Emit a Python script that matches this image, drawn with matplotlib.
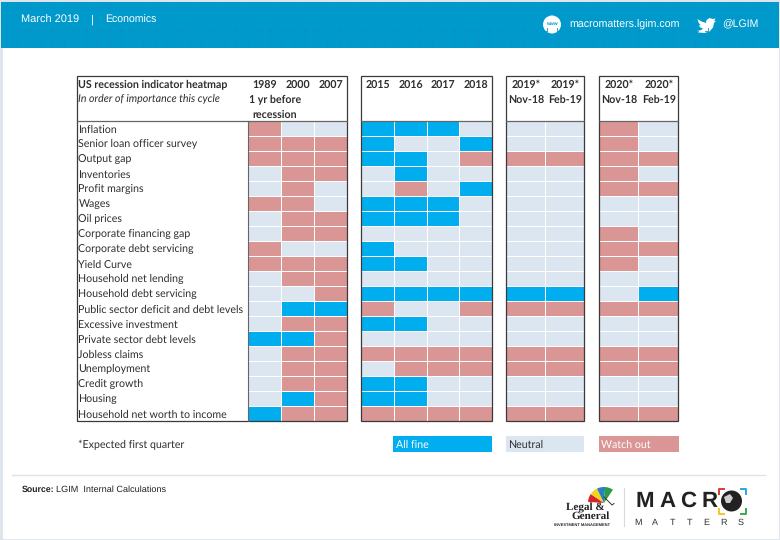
import matplotlib
matplotlib.use("Agg")
import matplotlib.pyplot as plt
from matplotlib.colors import ListedColormap
from matplotlib.patches import Rectangle, Circle, Wedge, Polygon
import numpy as np

plt.rcParams["text.hinting"] = "no_hinting"
plt.rcParams["text.hinting_factor"] = 8

indicators = ["Inflation", "Senior loan officer survey", "Output gap", "Inventories",
              "Profit margins", "Wages", "Oil prices", "Corporate financing gap",
              "Corporate debt servicing", "Yield Curve", "Household net lending",
              "Household debt servicing", "Public sector deficit and debt levels",
              "Excessive investment", "Private sector debt levels", "Jobless claims",
              "Unemployment", "Credit growth", "Housing", "Household net worth to income"]

# F = all fine, N = neutral, W = watch out; one string per indicator
before_recession = ["WNN", "WWW", "WWW", "NWW", "NWN", "WWN", "NWW", "NWW", "WNN", "WWW",
                    "NWW", "NNW", "NFF", "NWW", "FFW", "NWW", "NWW", "NWW", "NFW", "FWW"]
recent_years = ["FFFN", "FNNF", "FFNW", "NFNN", "NWNF", "FFFN", "FFFN", "NNNN", "FNNN", "FFNN",
                "NNNN", "FFFF", "WNNW", "FFNN", "NNNN", "WWWW", "NWWW", "FFNN", "FFNN", "WWWW"]
forecast_2019 = ["NN", "NN", "WW", "NN", "NN", "NN", "NN", "NN", "NN", "NN",
                 "NN", "FF", "WW", "NN", "NN", "WW", "WW", "NN", "NN", "WW"]
forecast_2020 = ["WN", "WN", "WW", "WN", "WW", "NN", "NN", "WN", "WW", "WN",
                 "NN", "NF", "WW", "NN", "NN", "WW", "WW", "NN", "NN", "WW"]

cols_before = ["1989", "2000", "2007"]
cols_recent = ["2015", "2016", "2017", "2018"]
cols_2019 = [("2019*", "Nov-18"), ("2019*", "Feb-19")]
cols_2020 = [("2020*", "Nov-18"), ("2020*", "Feb-19")]

C_FINE, C_NEUT, C_WATCH = "#00AEEF", "#DCE6F1", "#DA9694"
BANNER = "#0099CC"
PATTERN = "#0A90C0"
TXT = "#2E2E2E"
SANS = "Lato"
ARIAL = "Liberation Sans"
FS = 7.7

W, H = 780, 540
fig = plt.figure(figsize=(W / 100, H / 100), dpi=100, facecolor="white")

bg = fig.add_axes([0, 0, 1, 1], zorder=0)
bg.set_xlim(0, W); bg.set_ylim(H, 0); bg.axis("off")

# page border & banner
bg.add_patch(Rectangle((0.5, 0.5), W - 1, H - 1, fc="white", ec="#DDE3EA", lw=2))
bg.add_patch(Rectangle((1, 2), W - 2, 46, fc=BANNER, ec="none"))
for yy in (3, 26, 39):
    for xx in np.arange(5, W - 8, 23):
        bg.plot([xx, xx, xx + 3], [yy + 2, yy + 5, yy + 5], color=PATTERN, lw=0.6)
        bg.plot([xx + 10, xx + 13, xx + 13], [yy + 5, yy + 5, yy + 2], color=PATTERN, lw=0.6)
        if yy == 39:
            bg.plot([xx, xx, xx + 3], [yy + 1, yy - 2, yy - 2], color=PATTERN, lw=0.6)
            bg.plot([xx + 10, xx + 13, xx + 13], [yy - 2, yy - 2, yy + 1], color=PATTERN, lw=0.6)
bg.text(21, 20.5, "March 2019", color="white", fontsize=7.9, family=ARIAL, va="center")
bg.text(91, 20.5, "|", color="white", fontsize=7.9, family=ARIAL, va="center", ha="center")
bg.text(105, 20.5, "Economics", color="white", fontsize=7.6, family=ARIAL, va="center")
bg.add_patch(Circle((552, 24.5), 9, fc="white", ec="none"))
bg.text(552, 23.5, "www", color=BANNER, fontsize=3.6, family=ARIAL, ha="center", va="center", weight="bold")
bg.text(569, 25, "macromatters.lgim.com", color="white", fontsize=7.7, family=ARIAL, va="center")
bird = [(697.5, 19), (701.5, 21.5), (706, 23), (706.5, 20), (709.5, 18), (712.5, 19), (715.5, 18.5), (714, 21),
        (716, 20.8), (714, 23), (713, 27.5), (709.5, 31.5), (704.5, 33), (698.5, 32.5), (696.5, 31),
        (701, 30.2), (703, 28.5), (700, 27.3), (699, 25), (700.5, 25), (698.5, 22.5)]
bg.add_patch(Polygon(bird, closed=True, fc="white", ec="none"))
bg.text(722, 25, "@LGIM", color="white", fontsize=7.6, family=ARIAL, va="center")

# footer
bg.plot([12, 765], [474.5, 474.5], color="#DDE3EA", lw=1)
bg.text(22, 489.5, "Source:", fontsize=6.3, family=ARIAL, weight="bold", color="#222222", va="center")
bg.text(55.5, 489.5, "LGIM  Internal Calculations", fontsize=6.6, family=ARIAL, color="#222222", va="center")

# Legal & General logo
for a1, a2, col in [(184, 214, "#D8232A"), (214, 244, "#F6D21E"), (244, 274, "#2A7FC1"), (274, 304, "#2E9B47")]:
    bg.add_patch(Wedge((604, 503), 16, a1, a2, fc=col, ec="none"))
bg.plot([604, 609, 612, 614], [497, 502, 505, 503.5], color="#333333", lw=0.7)
bg.text(585, 507.5, "Legal &", fontsize=8, family="Liberation Serif", weight="bold", ha="center", va="center", color="#222222")
bg.text(591, 516.5, "General", fontsize=8, family="Liberation Serif", weight="bold", ha="center", va="center", color="#222222")
bg.text(582.5, 524.5, "INVESTMENT MANAGEMENT", fontsize=2.9, family=ARIAL, weight="bold", ha="center", va="center", color="#222222")
bg.plot([623.5, 623.5], [488, 526], color="#DADADA", lw=0.8)
for x, ch in zip([645, 667, 688, 709.5], "MACR"):
    bg.text(x, 501.5, ch, fontsize=16, family=ARIAL, weight="bold", ha="center", va="center", color="#222222")
bg.add_patch(Circle((731.5, 501), 10.5, fc="#222222", ec="none"))
bg.add_patch(Polygon([(724, 497), (730, 494), (733, 498), (730, 503), (726, 503)], closed=True, fc="#CFCFCF", ec="none"))
for (x0, y0, dx, dy, col) in [(719, 494, 1, -1, "#E03A2F"), (746, 494, -1, -1, "#2AA8E0"),
                              (719, 509, 1, 1, "#F2C81E"), (746, 509, -1, 1, "#3AAA4A")]:
    bg.plot([x0, x0, x0 + 5 * dx], [y0, y0 + 5 * dy, y0 + 5 * dy], color=col, lw=1.4)
for x, ch in zip(np.linspace(638, 741, 7), "MATTERS"):
    bg.text(x, 523, ch, fontsize=6.5, family=ARIAL, ha="center", va="center", color="#333333")

# heat blocks
TOP, BOT = 121, 421
cmap = ListedColormap([C_FINE, C_NEUT, C_WATCH])
code = {"F": 0, "N": 1, "W": 2}


def block(rows, x0, x1):
    ax = fig.add_axes([x0 / W, 1 - BOT / H, (x1 - x0) / W, (BOT - TOP) / H], zorder=2)
    z = np.array([[code[c] for c in r] for r in rows])
    ax.pcolormesh(z, cmap=cmap, vmin=0, vmax=2, edgecolors="white", linewidth=0.4)
    ax.set_ylim(len(rows), 0)
    ax.set_xticks([]); ax.set_yticks([])
    for s in ax.spines.values():
        s.set_visible(False)
    return ax


block(before_recession, 248, 347)
block(recent_years, 361, 492)
block(forecast_2019, 506, 584)
block(forecast_2020, 598.5, 678)

# frames drawn above the cells
fr = fig.add_axes([0, 0, 1, 1], zorder=3)
fr.set_xlim(0, W); fr.set_ylim(H, 0); fr.axis("off"); fr.patch.set_alpha(0)
for x0, x1 in [(77, 347), (361, 492), (506, 584), (598.5, 678)]:
    fr.add_patch(Rectangle((x0, 76), x1 - x0, 345, fc="none", ec="#3A3A3A", lw=0.9))
    fr.plot([x0, x1], [121, 121], color="#666666", lw=0.9)
fr.plot([248, 248], [121, 421], color="#666666", lw=0.8)

# header text
hdr = dict(fontsize=FS, family=SANS, weight="bold", color=TXT, va="center")
fr.text(78.5, 85, "US recession indicator heatmap", **hdr)
fr.text(78.5, 99.5, "In order of importance this cycle", fontsize=FS, family=SANS, style="italic", color=TXT, va="center")
for x, s in zip([265, 298, 331], cols_before):
    fr.text(x, 85, s, ha="center", **hdr)
fr.text(275, 99.5, "1 yr before", ha="center", **hdr)
fr.text(274.5, 114.5, "recession", ha="center", **hdr)
for x, s in zip([378, 410.5, 443, 476], cols_recent):
    fr.text(x, 85, s, ha="center", **hdr)
for x, (a, b) in zip([526, 565], cols_2019):
    fr.text(x, 85, a, ha="center", **hdr)
    fr.text(x, 99.5, b, ha="center", **hdr)
for x, (a, b) in zip([619, 659], cols_2020):
    fr.text(x, 85, a, ha="center", **hdr)
    fr.text(x, 99.5, b, ha="center", **hdr)

for i, name in enumerate(indicators):
    fr.text(78.5, TOP + 15 * i + 8.3, name, fontsize=FS, family=SANS, color=TXT, va="center")

# legend
fr.text(78.5, 444.5, "*Expected first quarter", fontsize=FS, family=SANS, color=TXT, va="center")
fr.add_patch(Rectangle((393, 436), 99, 16, fc=C_FINE, ec="none"))
fr.text(395.5, 444.5, "All fine", fontsize=FS, family=SANS, color="white", va="center")
fr.add_patch(Rectangle((506, 436), 78, 16, fc=C_NEUT, ec="none"))
fr.text(508.5, 444.5, "Neutral", fontsize=FS, family=SANS, color=TXT, va="center")
fr.add_patch(Rectangle((598.5, 436), 80, 15.5, fc=C_WATCH, ec="none"))
fr.text(601, 444.5, "Watch out", fontsize=FS, family=SANS, color="white", va="center")

fig.savefig("out.png", dpi=100)
